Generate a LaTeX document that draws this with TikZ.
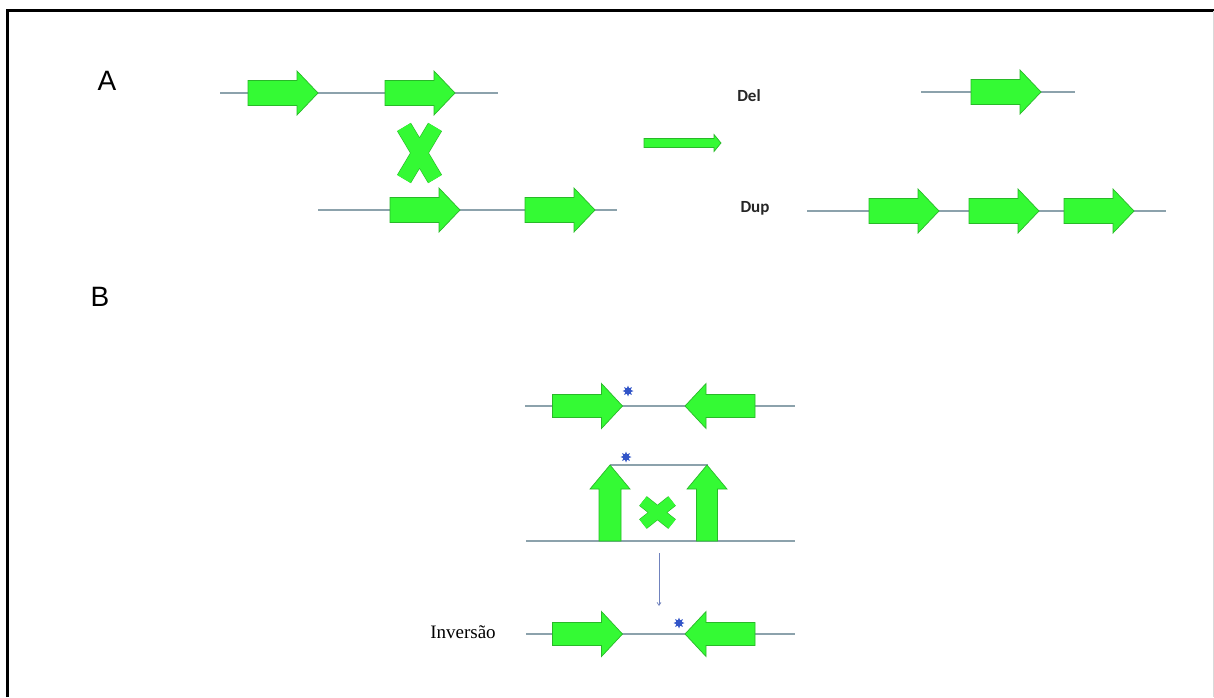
\documentclass[tikz,border=0pt]{standalone}
\usepackage{fontspec}
\setmainfont{Liberation Sans}
\newfontfamily\labelfont{Carlito}
\newfontfamily\seriffont{Liberation Serif}
\usetikzlibrary{shapes.geometric,arrows.meta}

\definecolor{genegreen}{RGB}{52,250,52}
\definecolor{geneedge}{RGB}{40,185,40}
\definecolor{strand}{RGB}{140,162,172}
\definecolor{markblue}{RGB}{50,85,200}

\tikzset{
  gene len/.initial=70,
  gene head/.initial=21,
  gene body/.initial=12.5,
  gene wide/.initial=22,
  pics/gene/.style={code={
    \pgfmathsetmacro\gL{\pgfkeysvalueof{/tikz/gene len}/2}
    \pgfmathsetmacro\gH{\gL-\pgfkeysvalueof{/tikz/gene head}}
    \pgfmathsetmacro\gB{\pgfkeysvalueof{/tikz/gene body}}
    \pgfmathsetmacro\gW{\pgfkeysvalueof{/tikz/gene wide}}
    \path[fill=genegreen, draw=geneedge, line width=0.7pt, line join=miter]
      (-\gL,-\gB) -- (\gH,-\gB) -- (\gH,-\gW) -- (\gL,0)
      -- (\gH,\gW) -- (\gH,\gB) -- (-\gL,\gB) -- cycle;
  }},
  dna/.style={draw=strand, line width=1.1pt},
  cross/.style={draw=genegreen, line cap=butt,
    preaction={draw=geneedge, line width=#1+1.2pt}, line width=#1},
  snp/.style={star, star points=8, star point ratio=1.9, minimum size=11pt,
    inner sep=0pt, fill=markblue, draw=none},
  panel/.style={font=\fontsize{28}{28}\selectfont},
  tag/.style={font=\labelfont\bfseries\fontsize{17}{17}\selectfont, text=black!85},
}

\begin{document}
\begin{tikzpicture}[x=1pt, y=-1pt]
\useasboundingbox (0,0) rectangle (1214,697);
\fill[white] (0,0) rectangle (1214,697);

% frame
\draw[line width=3pt] (7.5,697) -- (7.5,10.5) -- (1214,10.5);
\draw[line width=1pt, black!15] (1213,11) -- (1213,697);

% ---------- panel A ----------
\node[panel] (lblA) at (107,81) {A};

\coordinate (a1s) at (220,93);  \coordinate (a1e) at (498,93);
\coordinate (a2s) at (318,210); \coordinate (a2e) at (617,210);
\draw[dna] (a1s) -- (a1e);
\draw[dna] (a2s) -- (a2e);
\pic (ga1) at (283,93) {gene};
\pic (ga2) at (420,93) {gene};
\pic (ga3) at (425,210) {gene};
\pic (ga4) at (560,210) {gene};

% crossover
\coordinate (xa1) at (404,127); \coordinate (xa2) at (435,179);
\coordinate (xa3) at (435,127); \coordinate (xa4) at (404,179);
\draw[cross=15pt] (xa1) -- (xa2) (xa3) -- (xa4);

% result arrow
\pic[gene len=77, gene head=7, gene body=4.5, gene wide=8.5] (res) at (682.5,143) {gene};

\node[tag] (del) at (749,96) {Del};
\node[tag] (dup) at (755,208) {Dup};

\coordinate (ds) at (921,92);  \coordinate (de) at (1075,92);
\coordinate (us) at (807,211); \coordinate (ue) at (1166,211);
\draw[dna] (ds) -- (de);
\draw[dna] (us) -- (ue);
\pic (gd1) at (1006,92) {gene};
\pic (gu1) at (904,211) {gene};
\pic (gu2) at (1004,211) {gene};
\pic (gu3) at (1099,211) {gene};

% ---------- panel B ----------
\node[panel] (lblB) at (100,297) {B};

\coordinate (b1s) at (525,406); \coordinate (b1e) at (795,406);
\draw[dna] (b1s) -- (b1e);
\pic[gene wide=22.5, gene body=11.5] (gb1) at (587.5,406) {gene};
\pic[gene wide=22.5, gene body=11.5, rotate=180] (gb2) at (720,406) {gene};
\node[snp] (s1) at (628,391) {};

% folded strand
\coordinate (b2t1) at (610,465); \coordinate (b2t2) at (708,465);
\coordinate (b2s) at (526,541);  \coordinate (b2e) at (795,541);
\draw[dna] (b2t1) -- (b2t2);
\draw[dna] (b2s) -- (b2e);
\pic[rotate=90, gene len=76, gene head=24, gene body=11, gene wide=20] (up1) at (610,503) {gene};
\pic[rotate=90, gene len=76, gene head=24, gene body=10.5, gene wide=20] (up2) at (707,503) {gene};
\node[snp] (s2) at (626,457) {};
\coordinate (xb1) at (643,501); \coordinate (xb2) at (672,524);
\coordinate (xb3) at (672,501); \coordinate (xb4) at (643,524);
\draw[cross=11pt] (xb1) -- (xb2) (xb3) -- (xb4);

% step down
\coordinate (v1) at (659,553); \coordinate (v2) at (659,606);
\draw[draw=strand!80!blue, line width=0.7pt, -{Straight Barb[length=3pt,width=4pt]}] (v1) -- (v2);

% inverted result
\coordinate (b3s) at (526,634); \coordinate (b3e) at (795,634);
\draw[dna] (b3s) -- (b3e);
\pic[gene wide=22.5, gene body=11.5] (gi1) at (587.5,634) {gene};
\pic[gene wide=22.5, gene body=11.5, rotate=180] (gi2) at (720,634) {gene};
\node[snp] (s3) at (679,623) {};
\node[font=\seriffont\fontsize{19}{19}\selectfont] (inv) at (463,632) {Inversão};
\end{tikzpicture}
\end{document}
